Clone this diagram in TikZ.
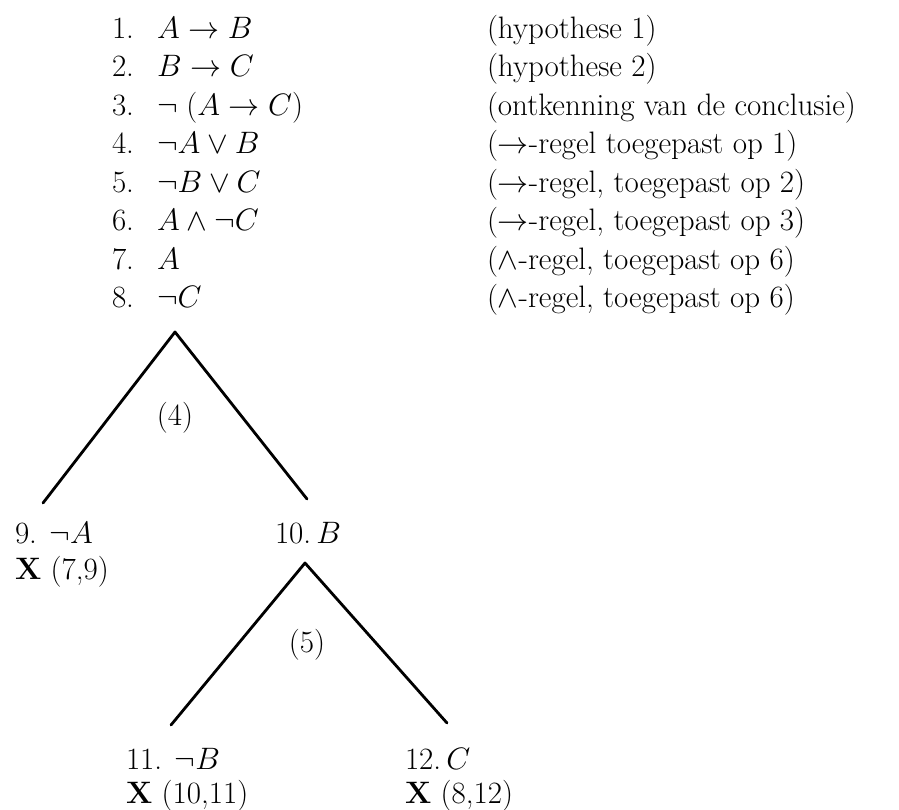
\RequirePackage{fix-cm}
\documentclass[tikz,border=0pt]{standalone}
\usepackage{fontspec}
\begin{document}
\begin{tikzpicture}[x=1pt,y=-1pt,
  txt/.style={anchor=base west,inner sep=0pt,outer sep=0pt,font=\fontsize{31}{38}\selectfont},
  lbl/.style={anchor=center,inner sep=0pt,font=\fontsize{31}{38}\selectfont},
  branch/.style={line width=2.8pt,line cap=round,line join=round}]
\useasboundingbox (0,0) rectangle (899,809);
% left column numbers and formulas
\foreach \i/\f [count=\k from 0] in {1/{$A\rightarrow B$},2/{$B\rightarrow C$},3/{$\neg\;(A\rightarrow C)$},4/{$\neg A\vee B$},5/{$\neg B\vee C$},6/{$A\wedge\neg C$},7/{$A$},8/{$\neg C$}}{
  \node[txt] (n\i) at (112,{38+\k*38.5}) {\i.};
  \node[txt] (f\i) at (157,{38+\k*38.5}) {\f};
}
% right column
\foreach \t [count=\k from 0] in {{(hypothese 1)},{(hypothese 2)},{(ontkenning van de conclusie)},{($\rightarrow$-regel toegepast op 1)},{($\rightarrow$-regel, toegepast op 2)},{($\rightarrow$-regel, toegepast op 3)},{($\wedge$-regel, toegepast op 6)},{($\wedge$-regel, toegepast op 6)}}{
  \node[txt] (r\k) at (487,{38+\k*38.5}) {\t};
}
% tree 1
\coordinate (top1) at (175,332);
\coordinate (l1) at (43,503);
\coordinate (r1) at (307,499);
\draw[branch] (l1) -- (top1) -- (r1);
\node[lbl] (c4) at (175,418) {(4)};
\node[txt] (t9) at (15,543) {9. $\neg A$};
\node[txt] (x9) at (15,579) {\textbf{X} (7,9)};
\node[txt] (t10) at (275,543) {10.\,$B$};
% tree 2
\coordinate (top2) at (305,563);
\coordinate (l2) at (171,725);
\coordinate (r2) at (447,723);
\draw[branch] (l2) -- (top2) -- (r2);
\node[lbl] (c5) at (307,645) {(5)};
\node[txt] (t11) at (126,769) {11. $\neg B$};
\node[txt] (x11) at (126,803) {\textbf{X} (10,11)};
\node[txt] (t12) at (405,769) {12.\,$C$};
\node[txt] (x12) at (405,803) {\textbf{X} (8,12)};
\end{tikzpicture}
\end{document}
